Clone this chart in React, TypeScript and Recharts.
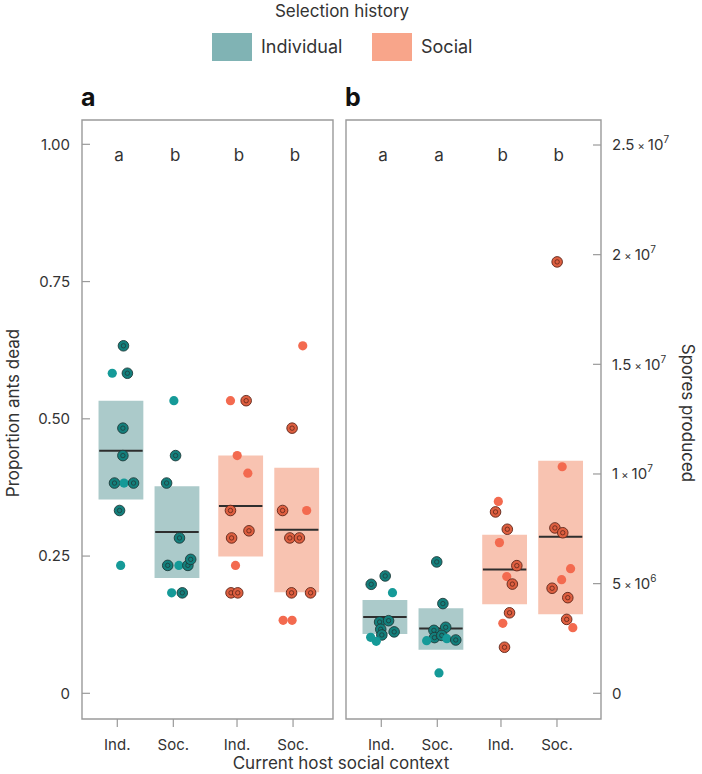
import React from "react";
import {
  ScatterChart,
  Scatter,
  XAxis,
  YAxis,
  ReferenceArea,
  ReferenceLine,
} from "recharts";

const FONT = "Inter, 'Noto Sans', sans-serif";
const INK = "#333";
const FRAME = "#9a9a9a";

// x positions of the four host-context groups (Individual selection: Ind., Soc.; Social selection: Ind., Soc.)
const TICK_POS = [1, 2, 3.137, 4.137];
const TICK_LABELS = ["Ind.", "Soc.", "Ind.", "Soc."];
const BOX_SHIFT = 0.065;
const BOX_HALF = 0.4;

const LEGEND_ITEMS = ["Individual", "Social"];
const LEGEND_COLORS = ["#80b3b4", "#f8a58a"];
const BOX_COLORS = ["#abcaca", "#abcaca", "#f8c3b1", "#f8c3b1"];
const PLAIN_COLORS = ["#159a98", "#159a98", "#f36a4f", "#f36a4f"];
const RING_COLORS = ["#137f7c", "#137f7c", "#de5f40", "#de5f40"];
const RING_EDGE = ["#1f3b3a", "#1f3b3a", "#5e2519", "#5e2519"];

// panel a: proportion of ants dead  [x, value, ringed]
const A_IND_IND = [
  [1.11, 0.633, 1], [0.91, 0.583, 0], [1.18, 0.583, 1], [1.1, 0.483, 1], [1.1, 0.433, 1],
  [0.95, 0.383, 1], [1.12, 0.383, 0], [1.29, 0.383, 1], [1.04, 0.333, 1], [1.06, 0.233, 0],
];
const A_IND_SOC = [
  [2.01, 0.533, 0], [2.04, 0.433, 1], [1.88, 0.383, 1], [2.11, 0.283, 1], [1.9, 0.233, 1],
  [2.1, 0.233, 0], [2.26, 0.233, 1], [2.31, 0.244, 1], [1.97, 0.183, 0], [2.16, 0.183, 1],
];
const A_SOC_IND = [
  [3.02, 0.533, 0], [3.3, 0.533, 1], [3.14, 0.433, 0], [3.33, 0.401, 0], [3.02, 0.333, 1],
  [3.35, 0.296, 1], [3.04, 0.283, 1], [3.11, 0.233, 0], [3.03, 0.183, 1], [3.15, 0.183, 1],
];
const A_SOC_SOC = [
  [4.31, 0.633, 0], [4.12, 0.483, 1], [3.95, 0.333, 1], [4.38, 0.333, 0], [4.08, 0.283, 1],
  [4.25, 0.283, 1], [4.11, 0.183, 1], [4.45, 0.183, 1], [3.96, 0.133, 0], [4.12, 0.133, 0],
];
// [low, high, median]
const A_BOXES = [
  [0.353, 0.533, 0.442],
  [0.21, 0.377, 0.294],
  [0.249, 0.433, 0.341],
  [0.184, 0.411, 0.298],
];
const A_LETTERS = ["a", "b", "b", "b"];

// panel b: spores produced (millions)
const B_IND_IND = [
  [0.82, 4.97, 1], [1.07, 5.35, 1], [1.2, 4.59, 0], [0.97, 3.25, 1], [1.13, 3.31, 1],
  [0.99, 2.92, 1], [1.01, 2.66, 1], [1.23, 2.8, 1], [0.81, 2.55, 0], [0.91, 2.37, 0],
];
const B_IND_SOC = [
  [1.99, 5.99, 1], [2.1, 4.09, 1], [1.94, 2.87, 1], [2.15, 3.01, 1], [1.95, 2.54, 1],
  [2.08, 2.64, 1], [2.17, 2.49, 0], [1.81, 2.4, 0], [2.33, 2.43, 1], [2.03, 0.93, 0],
];
const B_SOC_IND = [
  [3.09, 8.75, 0], [3.04, 8.27, 1], [3.25, 7.48, 1], [3.11, 6.87, 0], [3.42, 5.82, 1],
  [3.24, 5.32, 0], [3.34, 4.98, 1], [3.29, 3.67, 1], [3.17, 3.19, 0], [3.2, 2.1, 1],
];
const B_SOC_SOC = [
  [4.14, 19.67, 1], [4.23, 10.33, 0], [4.1, 7.54, 1], [4.24, 7.32, 1], [4.38, 5.68, 0],
  [4.22, 5.18, 0], [4.05, 4.79, 1], [4.33, 4.36, 1], [4.31, 3.37, 1], [4.42, 2.99, 0],
];
const B_BOXES = [
  [2.7, 4.25, 3.48],
  [1.99, 3.88, 2.95],
  [4.06, 7.23, 5.65],
  [3.6, 10.6, 7.14],
];
const B_LETTERS = ["a", "a", "b", "b"];

const A_TICKS = [0, 0.25, 0.5, 0.75, 1];
const B_TICKS = [0, 5, 10, 15, 20, 25];

const toPoints = (rows: number[][], scale = 1) =>
  rows.map(([x, y, r]) => ({ x, y: y * scale, r }));

function dotShape(g: number) {
  return (props: any) => {
    const { cx, cy, payload } = props;
    if (cx == null || cy == null) return <g />;
    if (payload.r) {
      return (
        <g>
          <circle cx={cx} cy={cy} r={5.3} fill={RING_COLORS[g]} stroke={RING_EDGE[g]} strokeWidth={0.9} />
          <circle cx={cx} cy={cy} r={2.2} fill="none" stroke={RING_EDGE[g]} strokeWidth={0.8} />
        </g>
      );
    }
    return <circle cx={cx} cy={cy} r={4.6} fill={PLAIN_COLORS[g]} />;
  };
}

const letterShape = (props: any) => {
  const { cx, cy, payload } = props;
  return (
    <text x={cx} y={cy} dy="0.35em" textAnchor="middle" fontSize={17} fill={INK} fontFamily={FONT}>
      {payload.t}
    </text>
  );
};

function LeftTick(props: any) {
  const { x, y, payload } = props;
  return (
    <g>
      <line x1={x} x2={x + 8} y1={y} y2={y} stroke={FRAME} strokeWidth={1.2} />
      <text x={x - 12} y={y} dy="0.35em" textAnchor="end" fontSize={15} fill={INK} fontFamily={FONT}>
        {payload.value === 0 ? "0" : payload.value.toFixed(2)}
      </text>
    </g>
  );
}

function RightTick(props: any) {
  const { x, y, payload } = props;
  const v = payload.value / 1e6;
  let body: React.ReactNode = "0";
  if (v > 0) {
    const exp = v >= 10 ? 7 : 6;
    const mant = v / Math.pow(10, exp - 6);
    body = (
      <>
        <tspan>{String(mant)}</tspan>
        <tspan fontSize={11}> × </tspan>
        <tspan>10</tspan>
        <tspan dy={-7} fontSize={10}>{exp}</tspan>
      </>
    );
  }
  return (
    <g>
      <line x1={x - 8} x2={x} y1={y} y2={y} stroke={FRAME} strokeWidth={1.2} />
      <text x={x + 11} y={y} dy="0.35em" textAnchor="start" fontSize={15} fill={INK} fontFamily={FONT}>
        {body}
      </text>
    </g>
  );
}

interface PanelProps {
  groups: number[][][];
  boxes: number[][];
  letters: string[];
  scale: number;
  yDomain: [number, number];
  xDomain: [number, number];
  yTicks: number[];
  letterY: number;
  side: "left" | "right";
  width: number;
  margin: { top: number; right: number; bottom: number; left: number };
}

function Panel({ groups, boxes, letters, scale, yDomain, xDomain, yTicks, letterY, side, width, margin }: PanelProps) {
  const letterData = letters.map((t, i) => ({ x: TICK_POS[i] + BOX_SHIFT / 2, y: letterY, t }));
  return (
    <ScatterChart width={width} height={774} margin={margin}>
      <XAxis
        type="number"
        dataKey="x"
        domain={xDomain}
        allowDataOverflow
        ticks={TICK_POS}
        tickFormatter={(v: number) => TICK_LABELS[TICK_POS.indexOf(v)] ?? ""}
        axisLine={false}
        tickLine={{ stroke: FRAME, strokeWidth: 1.2 }}
        tickSize={8}
        tickMargin={12}
        height={30}
        tick={{ fill: INK, fontSize: 15, fontFamily: FONT }}
        interval={0}
      />
      <YAxis
        type="number"
        dataKey="y"
        orientation={side}
        domain={yDomain}
        allowDataOverflow
        ticks={yTicks.map((t) => t * scale)}
        width={side === "left" ? 82 : 101}
        axisLine={false}
        tickLine={false}
        tickSize={0}
        tickMargin={0}
        tick={side === "left" ? <LeftTick /> : <RightTick />}
        interval={0}
      />
      {boxes.map(([lo, hi], i) => (
        <ReferenceArea
          key={"box" + i}
          x1={TICK_POS[i] + BOX_SHIFT - BOX_HALF}
          x2={TICK_POS[i] + BOX_SHIFT + BOX_HALF}
          y1={lo * scale}
          y2={hi * scale}
          fill={BOX_COLORS[i]}
          fillOpacity={1}
          stroke="none"
          ifOverflow="visible"
        />
      ))}
      {boxes.map(([, , med], i) => (
        <ReferenceLine
          key={"med" + i}
          segment={[
            { x: TICK_POS[i] + BOX_SHIFT - BOX_HALF * 0.97, y: med * scale },
            { x: TICK_POS[i] + BOX_SHIFT + BOX_HALF * 0.97, y: med * scale },
          ]}
          stroke="#2e2e2e"
          strokeWidth={2}
          ifOverflow="visible"
        />
      ))}
      <ReferenceArea
        x1={xDomain[0]}
        x2={xDomain[1]}
        y1={yDomain[0]}
        y2={yDomain[1]}
        fill="none"
        stroke={FRAME}
        strokeWidth={1.4}
        ifOverflow="visible"
      />
      {groups.map((g, i) => (
        <Scatter
          key={"g" + i}
          data={toPoints(g, scale)}
          shape={dotShape(i)}
          isAnimationActive={false}
        />
      ))}
      <Scatter data={letterData} shape={letterShape} isAnimationActive={false} />
    </ScatterChart>
  );
}

export default function App() {
  return (
    <div style={{ position: "absolute", left: 0, top: 0, width: 702, height: 774, background: "#fff", fontFamily: FONT }}>
      <div style={{ position: "absolute", left: 0, top: 0 }}>
        <Panel
          groups={[A_IND_IND, A_IND_SOC, A_SOC_IND, A_SOC_SOC]}
          boxes={A_BOXES}
          letters={A_LETTERS}
          scale={1}
          yDomain={[-0.0468, 1.0443]}
          xDomain={[0.37, 4.85]}
          yTicks={A_TICKS}
          letterY={0.98}
          side="left"
          width={340}
          margin={{ top: 120, right: 7, bottom: 25, left: 0 }}
        />
      </div>
      <div style={{ position: "absolute", left: 340, top: 0 }}>
        <Panel
          groups={[B_IND_IND, B_IND_SOC, B_SOC_IND, B_SOC_SOC]}
          boxes={B_BOXES}
          letters={B_LETTERS}
          scale={1e6}
          yDomain={[-1.172e6, 2.614e7]}
          xDomain={[0.37, 4.923]}
          yTicks={B_TICKS}
          letterY={24.54e6}
          side="right"
          width={362}
          margin={{ top: 120, right: 0, bottom: 25, left: 6 }}
        />
      </div>
      <svg width={702} height={774} style={{ position: "absolute", left: 0, top: 0, pointerEvents: "none" }}>
        <text x={342} y={11} dy="0.35em" textAnchor="middle" fontSize={17} fill={INK} fontFamily={FONT}>
          Selection history
        </text>
        {LEGEND_ITEMS.map((name, i) => (
          <g key={name}>
            <rect x={212 + i * 160} y={33} width={40} height={28} fill={LEGEND_COLORS[i]} />
            <text x={261 + i * 160} y={47} dy="0.35em" fontSize={18} fill={INK} fontFamily={FONT}>
              {name}
            </text>
          </g>
        ))}
        <text x={81} y={106} fontSize={25} fontWeight={700} fill="#111" fontFamily={FONT}>a</text>
        <text x={345} y={106} fontSize={25} fontWeight={700} fill="#111" fontFamily={FONT}>b</text>
        <text
          transform="translate(13,413) rotate(-90)"
          textAnchor="middle"
          dy="0.35em"
          fontSize={17}
          fill={INK}
          fontFamily={FONT}
        >
          Proportion ants dead
        </text>
        <text
          transform="translate(688,413) rotate(90)"
          textAnchor="middle"
          dy="0.35em"
          fontSize={17}
          fill={INK}
          fontFamily={FONT}
        >
          Spores produced
        </text>
        <text x={341} y={763} dy="0.35em" textAnchor="middle" fontSize={17} fill={INK} fontFamily={FONT}>
          Current host social context
        </text>
      </svg>
    </div>
  );
}
